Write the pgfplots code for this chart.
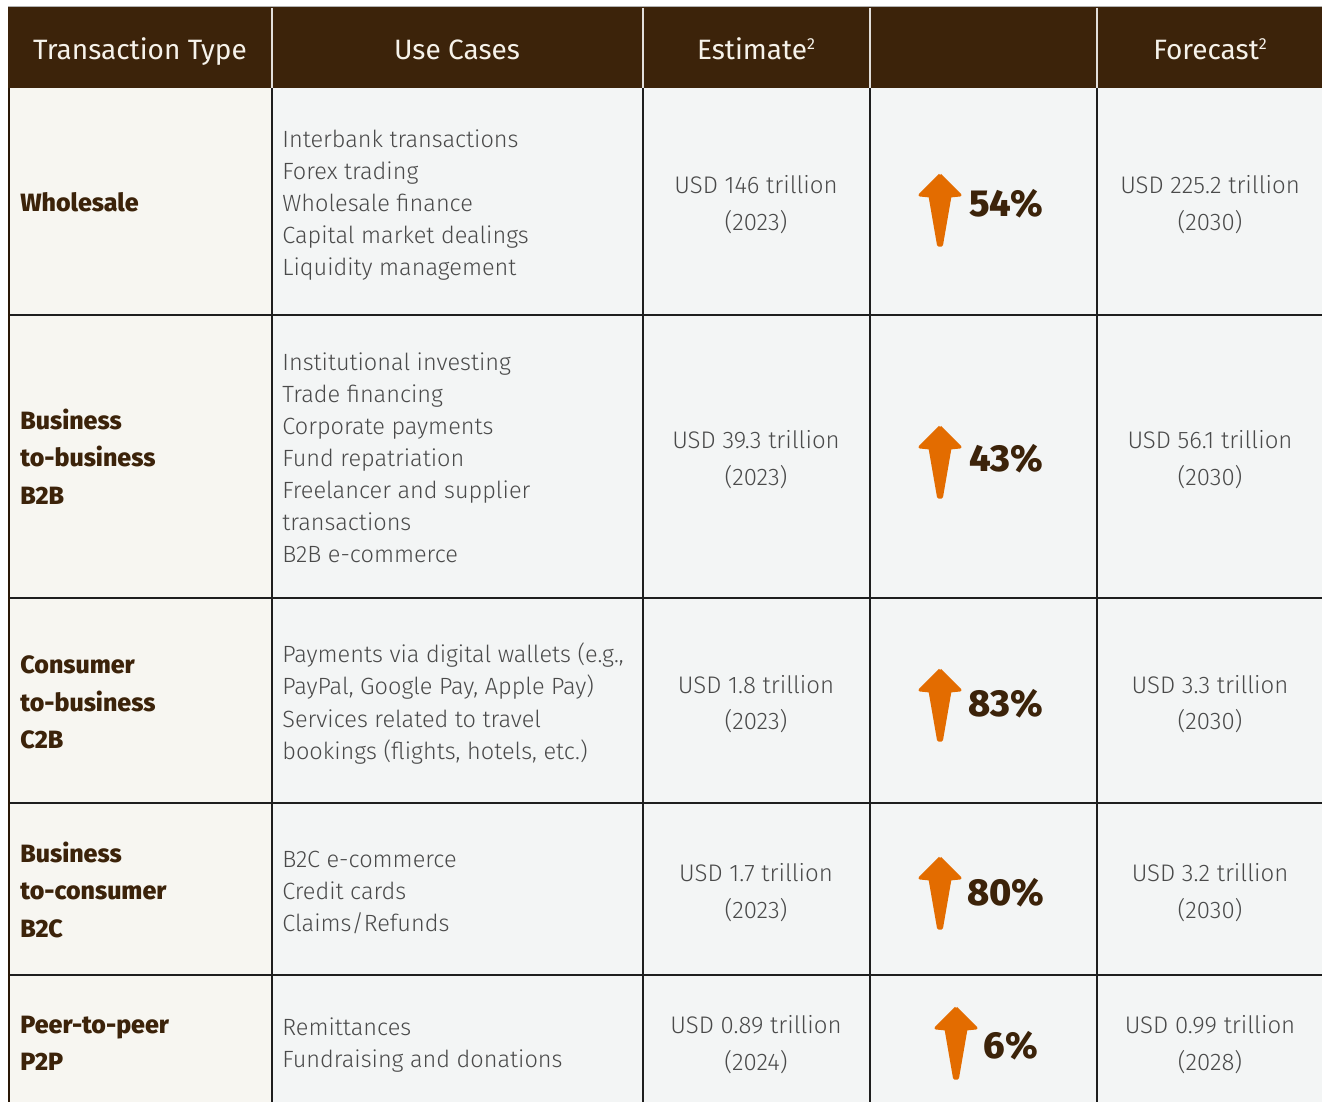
\documentclass[border=0pt]{standalone}
\usepackage{pgfplots}
\pgfplotsset{compat=1.18}
\usepackage{fontspec}
\setmainfont{Fira Sans}
\newfontfamily\fl{Fira Sans Light}
\newfontfamily\fh{Fira Sans ExtraBold}
\definecolor{hdr}{HTML}{3C230A}
\definecolor{hdrtxt}{HTML}{F6F2EA}
\definecolor{labc}{HTML}{3C230A}
\definecolor{bodyc}{HTML}{4A4A4A}
\definecolor{bgA}{HTML}{F7F6F1}
\definecolor{bgB}{HTML}{F3F5F5}
\definecolor{arr}{HTML}{E36C00}
\definecolor{rule}{HTML}{1E1E1E}
\newcommand\fnsup{{\fontsize{8}{8}\selectfont\raisebox{5pt}{2}}}
\tikzset{
  hd/.style={anchor=base,inner sep=0,font=\fontsize{14}{16}\selectfont,text=hdrtxt,yshift=-4.8pt},
  lab/.style={anchor=base west,inner sep=0,font=\fh\fontsize{12.5}{14}\selectfont,text=labc,yshift=-4.3pt},
  uc/.style={anchor=base west,inner sep=0,font=\fl\fontsize{11.75}{13}\selectfont,text=bodyc,yshift=-4.05pt},
  val/.style={anchor=base,inner sep=0,font=\fl\fontsize{12}{13}\selectfont,text=bodyc,yshift=-4.1pt},
  pct/.style={anchor=base,inner sep=0,font=\fh\fontsize{18.8}{20}\selectfont,text=labc,yshift=-6.5pt},
}
\begin{document}
\begin{tikzpicture}
\begin{axis}[width=661pt,height=551pt,scale only axis,
  xmin=0,xmax=1322,ymin=0,ymax=1102,y dir=reverse,hide axis,clip=true]
% cells
\fill[white] (axis cs:0,0) rectangle (axis cs:1322,1102);
\fill[bgA] (axis cs:8,88) rectangle (axis cs:272,1102);
\fill[bgB] (axis cs:272,88) rectangle (axis cs:1322,1102);
\fill[hdr] (axis cs:8,7) rectangle (axis cs:1322,88);
\draw[gray!60,line width=0.5pt] (axis cs:8,6.5) -- (axis cs:1322,6.5);
\foreach \x in {272,643,870,1097}{
  \edef\tmp{\noexpand\draw[white!85!hdr,line width=0.8pt] (axis cs:\x,8) -- (axis cs:\x,88);}\tmp
  \edef\tmp{\noexpand\draw[rule,line width=1pt] (axis cs:\x,88) -- (axis cs:\x,1102);}\tmp
}
\foreach \y in {315,598,803,975}{
  \edef\tmp{\noexpand\draw[rule,line width=1pt] (axis cs:8,\y) -- (axis cs:1322,\y);}\tmp
}
\draw[labc!70!black,line width=1pt] (axis cs:8.5,88) -- (axis cs:8.5,1102);

% arrows
\addplot[fill=arr,draw=arr,line width=1.5pt,line join=round] coordinates {(940,175)(920,195)(930,196)(938.5,245)(941.5,245)(950,196)(960,195)(940,175)};
\addplot[fill=arr,draw=arr,line width=1.5pt,line join=round] coordinates {(940,427)(920,447)(930,448)(938.5,497)(941.5,497)(950,448)(960,447)(940,427)};
\addplot[fill=arr,draw=arr,line width=1.5pt,line join=round] coordinates {(940,670)(920,690)(930,691)(938.5,740)(941.5,740)(950,691)(960,690)(940,670)};
\addplot[fill=arr,draw=arr,line width=1.5pt,line join=round] coordinates {(940,858)(920,878)(930,879)(938.5,928)(941.5,928)(950,879)(960,878)(940,858)};
\addplot[fill=arr,draw=arr,line width=1.5pt,line join=round] coordinates {(956,1008)(936,1028)(946,1029)(954.5,1078)(957.5,1078)(966,1029)(976,1028)(956,1008)};

% header
\node[hd] at (axis cs:140,50) {Transaction Type};
\node[hd] at (axis cs:457,50) {Use Cases};
\node[hd] at (axis cs:756,50) {Estimate\fnsup};
\node[hd] at (axis cs:1210,50) {Forecast\fnsup};

% row 1
\node[lab] at (axis cs:20,203) {Wholesale};
\node[uc] at (axis cs:282,139) {Interbank transactions};
\node[uc] at (axis cs:282,171) {Forex trading};
\node[uc] at (axis cs:282,203) {Wholesale finance};
\node[uc] at (axis cs:282,235) {Capital market dealings};
\node[uc] at (axis cs:282,267) {Liquidity management};
\node[val] at (axis cs:756,185) {USD 146 trillion};
\node[val] at (axis cs:756,222) {(2023)};
\node[pct] at (axis cs:1006,203) {54\%};
\node[val] at (axis cs:1210,185) {USD 225.2 trillion};
\node[val] at (axis cs:1210,222) {(2030)};

% row 2
\node[lab] at (axis cs:20,421) {Business};
\node[lab] at (axis cs:20,458) {to-business};
\node[lab] at (axis cs:20,496) {B2B};
\node[uc] at (axis cs:282,362) {Institutional investing};
\node[uc] at (axis cs:282,394) {Trade financing};
\node[uc] at (axis cs:282,426) {Corporate payments};
\node[uc] at (axis cs:282,458) {Fund repatriation};
\node[uc] at (axis cs:282,490) {Freelancer and supplier};
\node[uc] at (axis cs:282,522) {transactions};
\node[uc] at (axis cs:282,554) {B2B e-commerce};
\node[val] at (axis cs:756,440) {USD 39.3 trillion};
\node[val] at (axis cs:756,477) {(2023)};
\node[pct] at (axis cs:1006,458) {43\%};
\node[val] at (axis cs:1210,440) {USD 56.1 trillion};
\node[val] at (axis cs:1210,477) {(2030)};

% row 3
\node[lab] at (axis cs:20,665) {Consumer};
\node[lab] at (axis cs:20,703) {to-business};
\node[lab] at (axis cs:20,740) {C2B};
\node[uc] at (axis cs:282,654) {Payments via digital wallets (e.g.,};
\node[uc] at (axis cs:282,686) {PayPal, Google Pay, Apple Pay)};
\node[uc] at (axis cs:282,719) {Services related to travel};
\node[uc] at (axis cs:282,751) {bookings (flights, hotels, etc.)};
\node[val] at (axis cs:756,685) {USD 1.8 trillion};
\node[val] at (axis cs:756,721) {(2023)};
\node[pct] at (axis cs:1006,703) {83\%};
\node[val] at (axis cs:1210,685) {USD 3.3 trillion};
\node[val] at (axis cs:1210,721) {(2030)};

% row 4
\node[lab] at (axis cs:20,854) {Business};
\node[lab] at (axis cs:20,891) {to-consumer};
\node[lab] at (axis cs:20,929) {B2C};
\node[uc] at (axis cs:282,859) {B2C e-commerce};
\node[uc] at (axis cs:282,891) {Credit cards};
\node[uc] at (axis cs:282,923) {Claims/Refunds};
\node[val] at (axis cs:756,873) {USD 1.7 trillion};
\node[val] at (axis cs:756,910) {(2023)};
\node[pct] at (axis cs:1006,892) {80\%};
\node[val] at (axis cs:1210,873) {USD 3.2 trillion};
\node[val] at (axis cs:1210,910) {(2030)};

% row 5
\node[lab] at (axis cs:20,1025) {Peer-to-peer};
\node[lab] at (axis cs:20,1062) {P2P};
\node[uc] at (axis cs:282,1027) {Remittances};
\node[uc] at (axis cs:282,1059) {Fundraising and donations};
\node[val] at (axis cs:756,1025) {USD 0.89 trillion};
\node[val] at (axis cs:756,1062) {(2024)};
\node[pct] at (axis cs:1011,1045) {6\%};
\node[val] at (axis cs:1210,1025) {USD 0.99 trillion};
\node[val] at (axis cs:1210,1062) {(2028)};
\end{axis}
\end{tikzpicture}
\end{document}
